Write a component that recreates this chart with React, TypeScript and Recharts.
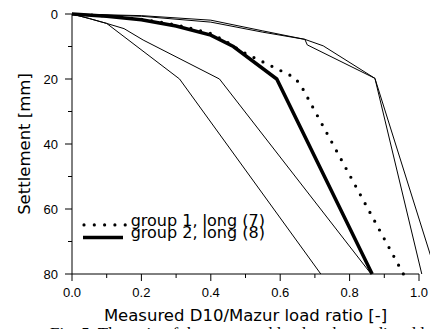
import React from 'react';
import { LineChart, Line, XAxis, YAxis, ReferenceLine, Legend } from 'recharts';

const ratioTicks = [0, 0.1, 0.2, 0.3, 0.4, 0.5, 0.6, 0.7, 0.8, 0.9, 1.0];
const settleTicks = [0, 10, 20, 30, 40, 50, 60, 70, 80];
const X_MAX = 1.0317;

// individual piles (thin lines)
const pileA_ratio = [0, 0.05, 0.1, 0.31, 0.717];
const pileA_settle = [0, 1.4, 2.9, 20, 80];
const pileB_ratio = [0, 0.05, 0.1, 0.15, 0.205, 0.425, 0.862];
const pileB_settle = [0, 1.4, 2.9, 4.5, 8, 20, 80];
const pileC_ratio = [0, 0.2, 0.4, 0.55, 0.671, 0.678, 0.873, 1.008];
const pileC_settle = [0, 0.5, 1.9, 5.2, 7.8, 9.5, 19.8, 80];
const pileD_ratio = [0, 0.2, 0.4, 0.55, 0.671, 0.724, 0.873, 1.05];
const pileD_settle = [0, 0.7, 2.5, 5.6, 7.8, 9.8, 19.8, 80];

// group averages
const group1_ratio = [0, 0.1, 0.2, 0.3, 0.4, 0.44, 0.49, 0.643, 0.665, 0.955];
const group1_settle = [0, 0.6, 1.6, 3.3, 6.0, 8.2, 11.6, 19.6, 23, 80];
const group2_ratio = [0, 0.1, 0.2, 0.3, 0.4, 0.465, 0.59, 0.865];
const group2_settle = [0, 0.7, 1.8, 3.7, 6.5, 10, 20, 80];

const toData = (xs: number[], ys: number[]) => xs.map((r, i) => ({ ratio: r, settle: ys[i] }));

const TICK_SIZE = 7;
const TICK_MARGIN = 7;
const TICK_FONT = '"Liberation Sans", Arial, sans-serif';
const TITLE_FONT = '"DejaVu Sans", sans-serif';

const XTick = (props: any) => {
  const { x, y, payload } = props;
  const v = payload.value as number;
  const major = Math.round(v * 10) % 2 === 0;
  const axisY = y - TICK_SIZE - TICK_MARGIN;
  return (
    <g>
      <line x1={x} x2={x} y1={axisY} y2={axisY + (major ? 7 : 4)} stroke="#000" />
      {major && (
        <text x={x} y={y} dy="0.71em" textAnchor="middle" fontFamily={TICK_FONT} fontSize={13} fill="#000">
          {v.toFixed(1)}
        </text>
      )}
    </g>
  );
};

const YTick = (props: any) => {
  const { x, y, payload } = props;
  const v = payload.value as number;
  const major = v % 20 === 0;
  const axisX = x + TICK_SIZE + TICK_MARGIN;
  return (
    <g>
      <line x1={axisX - (major ? 7 : 4)} x2={axisX} y1={y} y2={y} stroke="#000" />
      {major && (
        <text x={x} y={y} dy="0.355em" textAnchor="end" fontFamily={TICK_FONT} fontSize={13} fill="#000">
          {v}
        </text>
      )}
    </g>
  );
};

const legendLook: Record<string, { x1: number; x2: number; w: number; dash?: string }> = {
  'group 1, long (7)': { x1: 6, x2: 48, w: 3.2, dash: '0 10.3' },
  'group 2, long (8)': { x1: 5, x2: 45, w: 3.6 },
};

const renderLegend = (props: any) => {
  const items = (props.payload || []).filter((p: any) => legendLook[p.value]);
  return (
    <svg width={200} height={36} style={{ overflow: 'visible' }}>
      {items.map((it: any, i: number) => {
        const s = legendLook[it.value];
        const base = 15.7 + i * 12.6;
        return (
          <g key={it.value}>
            <line
              x1={s.x1}
              x2={s.x2}
              y1={base - 0.8}
              y2={base - 0.8}
              stroke="#000"
              strokeWidth={s.w}
              strokeDasharray={s.dash}
              strokeLinecap={s.dash ? 'round' : 'butt'}
            />
            <text x={52.7} y={base} fontFamily={TITLE_FONT} fontSize={16} fill="#000">
              {it.value}
            </text>
          </g>
        );
      })}
    </svg>
  );
};

export default function App() {
  return (
    <div style={{ position: 'absolute', left: 0, top: 0, width: 430, height: 329, overflow: 'hidden', background: '#fff' }}>
      <LineChart width={430} height={329} margin={{ top: 14, right: 0, bottom: 0, left: 0 }}>
        <XAxis
          type="number"
          dataKey="ratio"
          domain={[0, X_MAX]}
          allowDataOverflow
          ticks={ratioTicks}
          interval={0}
          height={55}
          axisLine={false}
          tickLine={false}
          tickSize={TICK_SIZE}
          tickMargin={TICK_MARGIN}
          tick={<XTick />}
          label={{
            content: ({ viewBox }: any) => (
              <text
                x={viewBox.x + (viewBox.width * 0.5) / X_MAX}
                y={viewBox.y + 46.5}
                textAnchor="middle"
                fontFamily={TITLE_FONT}
                fontSize={16.5}
                fill="#000"
              >
                Measured D10/Mazur load ratio [-]
              </text>
            ),
          }}
        />
        <YAxis
          type="number"
          domain={[0, 80]}
          reversed
          ticks={settleTicks}
          interval={0}
          width={72}
          axisLine={{ stroke: '#000' }}
          tickLine={false}
          tickSize={TICK_SIZE}
          tickMargin={TICK_MARGIN}
          tick={<YTick />}
          label={{
            content: ({ viewBox }: any) => {
              const cx = viewBox.x + 24;
              const cy = viewBox.y + viewBox.height / 2;
              return (
                <text
                  x={cx}
                  y={cy}
                  dy="0.35em"
                  transform={`rotate(-90, ${cx}, ${cy})`}
                  textAnchor="middle"
                  fontFamily={TITLE_FONT}
                  fontSize={16.5}
                  fill="#000"
                >
                  Settlement  [mm]
                </text>
              );
            },
          }}
        />
        <ReferenceLine segment={[{ x: 0, y: 80 }, { x: 1, y: 80 }]} stroke="#000" strokeWidth={1} />
        <Line data={toData(pileA_ratio, pileA_settle)} dataKey="settle" name="pile A" legendType="none" type="linear" stroke="#000" strokeWidth={1} dot={false} activeDot={false} isAnimationActive={false} />
        <Line data={toData(pileB_ratio, pileB_settle)} dataKey="settle" name="pile B" legendType="none" type="linear" stroke="#000" strokeWidth={1} dot={false} activeDot={false} isAnimationActive={false} />
        <Line data={toData(pileC_ratio, pileC_settle)} dataKey="settle" name="pile C" legendType="none" type="linear" stroke="#000" strokeWidth={1} dot={false} activeDot={false} isAnimationActive={false} />
        <Line data={toData(pileD_ratio, pileD_settle)} dataKey="settle" name="pile D" legendType="none" type="linear" stroke="#000" strokeWidth={1} dot={false} activeDot={false} isAnimationActive={false} />
        <Line data={toData(group1_ratio, group1_settle)} dataKey="settle" name="group 1, long (7)" type="linear" stroke="#000" strokeWidth={3.2} strokeDasharray="0 10" strokeLinecap="round" dot={false} activeDot={false} isAnimationActive={false} />
        <Line data={toData(group2_ratio, group2_settle)} dataKey="settle" name="group 2, long (8)" type="linear" stroke="#000" strokeWidth={3.5} dot={false} activeDot={false} isAnimationActive={false} />
        <Legend
          layout="horizontal"
          verticalAlign="middle"
          align="center"
          content={renderLegend}
          wrapperStyle={{ left: 78, top: 210, width: 200, height: 36 }}
        />
      </LineChart>
      <div
        style={{
          position: 'absolute',
          left: 50,
          top: 324,
          whiteSpace: 'nowrap',
          fontFamily: '"Liberation Serif", serif',
          fontSize: 17,
          lineHeight: '20px',
          color: '#000',
        }}
      >
        Fig. 5. The ratio of the measured load to the predicted load
      </div>
    </div>
  );
}
